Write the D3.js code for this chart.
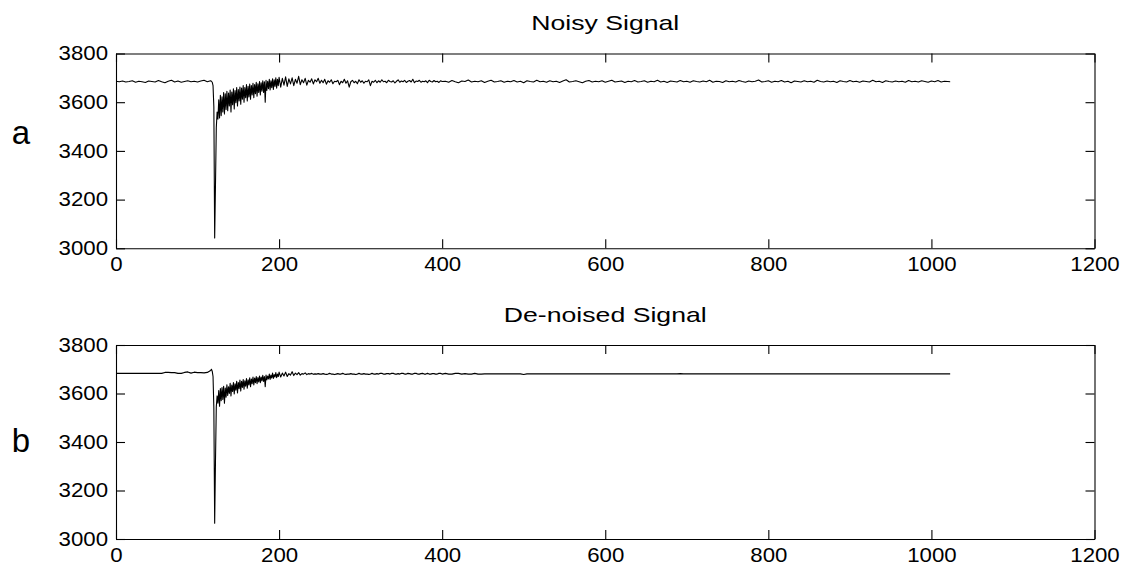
<!DOCTYPE html>
<html><head><meta charset="utf-8">
<script src="https://cdn.jsdelivr.net/npm/d3@7"></script>
<style>body{margin:0;background:#fff}text{font-family:"Liberation Sans",Arial,sans-serif}</style>
</head><body><svg id="chart" width="1125" height="565"></svg>
<script>
// sample positions (index along the signal)
const sampleIndex = [
0,4,8,12,16,20,24,28,32,36,40,44,48,52,56,60,64,68,72,76,80,84,88,92,96,100,104,108,112,116,
117,118,119,120,121,122,123,124,125,126,127,128,129,130,131,132,133,134,135,136,137,138,139,140,
141,142,143,144,145,146,147,148,149,150,151,152,153,154,155,156,157,158,159,160,161,162,163,164,
165,166,167,168,169,170,171,172,173,174,175,176,177,178,179,180,181,182,183,184,185,186,187,188,
189,190,191,192,193,194,195,196,197,198,199,200,
202,204,206,208,210,212,214,216,218,220,222,224,226,228,230,232,234,236,238,240,242,244,246,248,250,
252,254,256,258,260,262,264,266,268,270,272,274,276,278,280,282,284,286,288,290,292,294,296,298,300,
302,304,306,308,310,312,314,316,318,320,
322,324,326,328,330,332,334,336,338,340,342,344,346,348,350,352,354,356,358,360,
362,364,366,368,370,372,374,376,378,380,382,384,386,388,390,392,394,396,398,400,
404,408,412,416,420,424,428,432,436,440,444,448,452,456,460,464,468,472,476,480,
484,488,492,496,500,504,508,512,516,520,524,528,532,536,540,544,548,552,556,560,
564,568,572,576,580,584,588,592,596,600,604,608,612,616,620,624,628,632,636,640,
644,648,652,656,660,664,668,672,676,680,684,688,692,696,700,704,708,712,716,720,
724,728,732,736,740,744,748,752,756,760,764,768,772,776,780,784,788,792,796,800,
804,808,812,816,820,824,828,832,836,840,844,848,852,856,860,864,868,872,876,880,
884,888,892,896,900,904,908,912,916,920,924,928,932,936,940,944,948,952,956,960,
964,968,972,976,980,984,988,992,996,1000,1004,1008,1012,1016,1020,1023
];

const noisySignal = [
3686,3684,3687,3683,3685,3688,3682,3686,3684,3681,3687,3685,3683,3689,3684,3680,3686,3690,3683,3687,3682,3685,3688,3684,3686,3683,3687,3690,3684,3688,
3686,3682,3668,3580,3042,3260,3495,3560,3530,3610,3535,3628,3545,3622,3560,3640,3552,3635,3570,3645,3565,3638,3585,3650,
3560,3642,3590,3655,3572,3648,3598,3660,3585,3652,3605,3662,3592,3658,3612,3668,3600,3660,3618,3672,3605,3665,3622,3675,
3612,3668,3630,3678,3618,3672,3635,3682,3625,3676,3640,3685,3630,3680,3645,3688,3640,3684,3600,3690,3648,3686,3655,3694,
3650,3688,3660,3696,3652,3692,3665,3700,3658,3694,3668,3702,
3662,3698,3670,3704,3665,3696,3675,3700,3668,3694,3678,3706,3672,3692,3680,3698,3670,3690,3682,3696,3675,3692,3684,3698,3678,
3690,3680,3694,3674,3688,3682,3692,3676,3686,3684,3690,3672,3686,3680,3694,3678,3688,3662,3684,3690,
3680,3686,3676,3692,3682,3688,3678,3686,3684,3692,3668,3686,3682,3690,3680,
3688,3682,3692,3684,3686,3680,3690,3685,3683,3688,3679,3686,3692,3682,3687,3684,3690,3681,3686,3689,
3683,3694,3680,3687,3685,3690,3682,3686,3684,3688,3680,3690,3685,3683,3689,3684,3686,3681,3688,3685,
3686,3682,3689,3684,3680,3687,3685,3691,3683,3686,3684,3688,3681,3686,3690,3683,3685,3688,3682,3686,
3684,3689,3683,3686,3680,3688,3685,3683,3690,3684,3686,3682,3688,3684,3686,3681,3687,3692,3683,3685,
3688,3684,3680,3686,3689,3683,3686,3684,3688,3682,3686,3690,3683,3685,3687,3681,3686,3684,3689,3683,
3685,3688,3682,3686,3684,3690,3683,3686,3681,3687,3685,3683,3689,3684,3686,3682,3688,3685,3683,3687,
3684,3690,3682,3686,3685,3681,3688,3684,3686,3683,3689,3685,3682,3687,3684,3686,3691,3683,3685,3688,
3682,3686,3684,3689,3683,3686,3680,3687,3685,3683,3688,3684,3686,3682,3690,3685,3683,3687,3684,3686,
3681,3688,3685,3683,3689,3684,3686,3682,3687,3685,3683,3690,3684,3686,3681,3688,3685,3683,3687,3684,
3686,3682,3689,3684,3686,3683,3688,3685,3682,3687,3684,3689,3683,3686,3685,3684
];

const denoisedSignal = [
3683,3683,3683,3683,3683,3683,3683,3683,3683,3683,3683,3683,3683,3683,3683,3687,3687,3686,3686,3683,3683,3687,3689,3684,3688,3686,3686,3685,3687,3695,
3700,3692,3670,3540,3065,3320,3545,3590,3560,3612,3548,3620,3570,3625,3575,3630,3560,3622,3585,3636,3592,3628,3600,3642,
3590,3635,3608,3645,3598,3640,3614,3650,3602,3645,3620,3655,3610,3650,3625,3658,3618,3652,3630,3662,3622,3656,3635,3665,
3628,3660,3640,3668,3635,3664,3645,3670,3640,3666,3648,3672,3645,3668,3652,3675,3650,3670,3628,3676,3656,3672,3660,3680,
3658,3676,3664,3684,3662,3678,3668,3686,3665,3680,3670,3688,
3668,3684,3672,3688,3670,3682,3676,3690,3674,3684,3678,3686,3676,3682,3680,3685,3678,3682,3680,3683,3679,3681,3680,3682,3680,
3680,3682,3680,3679,3680,3683,3680,3680,3678,3680,3682,3680,3680,3683,3680,3679,3680,3680,3682,3680,
3680,3678,3680,3683,3680,3680,3682,3680,3680,3679,3680,3683,3680,3680,3682,
3680,3683,3683,3680,3680,3682,3682,3680,3683,3683,3680,3680,3682,3680,3683,3683,3680,3680,3683,3682,
3680,3680,3683,3683,3680,3680,3682,3683,3680,3680,3683,3680,3680,3682,3682,3680,3680,3683,3683,3680,
3683,3680,3680,3683,3683,3680,3682,3680,3680,3683,3680,3680,3681,3681,3681,3681,3681,3681,3681,3681,
3681,3681,3681,3681,3678,3681,3681,3681,3681,3681,3681,3681,3681,3681,3681,3681,3681,3681,3681,3681,
3681,3681,3681,3681,3681,3681,3681,3681,3681,3681,3681,3681,3681,3681,3681,3681,3681,3681,3681,3681,
3681,3681,3681,3681,3681,3681,3681,3681,3681,3681,3681,3681,3682,3681,3681,3681,3681,3681,3681,3681,
3681,3681,3681,3681,3681,3681,3681,3681,3681,3681,3681,3681,3681,3681,3681,3681,3681,3681,3681,3681,
3681,3681,3681,3681,3681,3681,3681,3681,3681,3681,3681,3681,3681,3681,3681,3681,3681,3681,3681,3681,
3681,3681,3681,3681,3681,3681,3681,3681,3681,3681,3681,3681,3681,3681,3681,3681,3681,3681,3681,3681,
3681,3681,3681,3681,3681,3681,3681,3681,3681,3681,3681,3681,3681,3681,3681,3681
];

const xTicks = [0,200,400,600,800,1000,1200];
const yTicks = [3000,3200,3400,3600,3800];
const panelTitles = ["Noisy Signal","De-noised Signal"];
const panelTags = ["a","b"];

const svg = d3.select("#chart");
const left = 116, right = 1094.5;
const panels = [
  {title: panelTitles[0], tag: panelTags[0], values: noisySignal, top: 53.5, bottom: 248.3, tagY: 144},
  {title: panelTitles[1], tag: panelTags[1], values: denoisedSignal, top: 345, bottom: 539, tagY: 452}
];
const FS = 19.5, SX = 1.14;
const fmt = d3.format("d");

panels.forEach(p => {
  const x = d3.scaleLinear().domain([0,1200]).range([left,right]);
  const y = d3.scaleLinear().domain([3000,3800]).range([p.bottom,p.top]);
  const g = svg.append("g");

  const line = d3.line().x((d,i)=>x(sampleIndex[i])).y(d=>y(d));
  g.append("path").datum(p.values).attr("d",line)
    .attr("fill","none").attr("stroke","#000").attr("stroke-width",1.1).attr("stroke-linejoin","round");

  const style = (sel) => {
    sel.attr("font-family",null).attr("font-size",null);
    sel.selectAll("path,line").attr("stroke","#000").attr("stroke-width",1.1);
    sel.selectAll("text").attr("fill","#000").style("font-size",FS+"px").attr("transform",`scale(${SX},1)`);
  };
  g.append("g").attr("transform",`translate(0,${p.bottom})`)
    .call(d3.axisBottom(x).tickValues(xTicks).tickFormat(fmt).tickSizeInner(-9).tickSizeOuter(0).tickPadding(9)).call(style);
  g.append("g").attr("transform",`translate(0,${p.top})`)
    .call(d3.axisTop(x).tickValues(xTicks).tickSizeInner(-9).tickSizeOuter(0).tickFormat("")).call(style);
  g.append("g").attr("transform",`translate(${left},0)`)
    .call(d3.axisLeft(y).tickValues(yTicks).tickFormat(fmt).tickSizeInner(-9).tickSizeOuter(0).tickPadding(7)).call(style);
  g.append("g").attr("transform",`translate(${right},0)`)
    .call(d3.axisRight(y).tickValues(yTicks).tickSizeInner(-9).tickSizeOuter(0).tickFormat("")).call(style);

  g.append("text").attr("transform",`translate(${(left+right)/2},${p.top-23.5}) scale(1.3,1)`)
    .attr("text-anchor","middle").style("font-size","20.5px").attr("fill","#000").text(p.title);
  g.append("text").attr("x",21).attr("y",p.tagY).attr("text-anchor","middle")
    .style("font-size","33px").attr("fill","#000").text(p.tag);
});
</script>
</body></html>
